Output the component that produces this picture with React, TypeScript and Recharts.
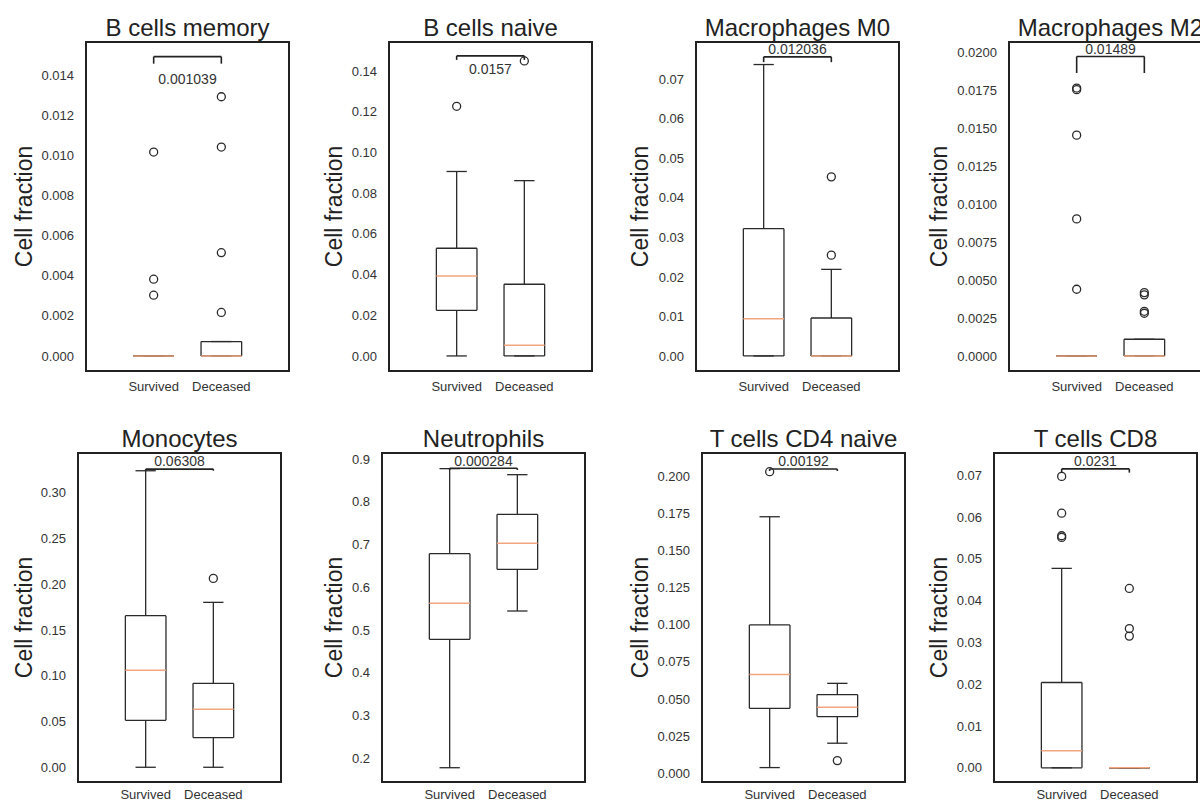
import {
  ComposedChart, XAxis, YAxis, Scatter, ReferenceArea, ReferenceLine, ReferenceDot,
} from 'recharts';

// panel titles, groups, p-values
const TITLES = [
  'B cells memory', 'B cells naive', 'Macrophages M0', 'Macrophages M2',
  'Monocytes', 'Neutrophils', 'T cells CD4 naive', 'T cells CD8',
];
const GROUPS = ['Survived', 'Deceased'];
const P_VALUES = ['0.001039', '0.0157', '0.012036', '0.01489', '0.06308', '0.000284', '0.00192', '0.0231'];

// box stats per panel: [Survived, Deceased]
const WHISKER_LO = [[0, 0], [0, 0], [0, 0], [0, 0], [0, 0], [0.178, 0.5445], [0.0038, 0.0202], [0, 0]];
const Q1 = [[0, 0], [0.0224, 0], [0, 0], [0, 0], [0.0513, 0.0324], [0.4783, 0.642], [0.0437, 0.0381], [0, 0]];
const MEDIAN = [[0, 0], [0.0393, 0.0052], [0.0094, 0], [0, 0], [0.1059, 0.0633], [0.5625, 0.7028], [0.0664, 0.0444], [0.0041, 0]];
const Q3 = [[0, 0.00072], [0.0529, 0.0352], [0.0322, 0.0096], [0, 0.0011], [0.1656, 0.0917], [0.6786, 0.7706], [0.0998, 0.0529], [0.0204, 0]];
const WHISKER_HI = [[0, 0.00072], [0.0906, 0.0861], [0.0737, 0.0219], [0, 0.0011], [0.324, 0.1802], [0.8774, 0.8633], [0.1726, 0.0605], [0.0477, 0]];
const OUTLIERS = [
  [[0.01017, 0.00383, 0.00303], [0.01293, 0.01042, 0.00515, 0.00217]],
  [[0.1226], [0.1449]],
  [[], [0.0255, 0.0453]],
  [[0.01763, 0.01752, 0.01453, 0.00902, 0.00439], [0.00417, 0.00402, 0.00294, 0.00281]],
  [[], [0.2064]],
  [[], []],
  [[0.2029], [0.0085]],
  [[0.0697, 0.0609, 0.0555, 0.0551], [0.0429, 0.0333, 0.0315]],
];

// significance bracket (data units): leg bottom, bar top, p-value text centre
const BRACKET_BASE = [0.01458, 0.1454, 0.0743, 0.01862, 0.324, 0.8743, 0.2034, 0.0706];
const BRACKET_TOP = [0.01493, 0.1474, 0.07565, 0.01971, 0.3258, 0.8782, 0.2047, 0.0715];
const P_LABEL_Y = [0.01383, 0.141, 0.0775, 0.0202, 0.3345, 0.8953, 0.2101, 0.0734];

// y axes
const Y_DOMAINS = [
  [-0.00075, 0.01566], [-0.0074, 0.1542], [-0.0038, 0.0794], [-0.00099, 0.02066],
  [-0.0161, 0.3434], [0.1446, 0.914], [-0.0059, 0.2155], [-0.0034, 0.0753],
];
const Y_TICKS = [
  [0, 0.002, 0.004, 0.006, 0.008, 0.01, 0.012, 0.014],
  [0, 0.02, 0.04, 0.06, 0.08, 0.1, 0.12, 0.14],
  [0, 0.01, 0.02, 0.03, 0.04, 0.05, 0.06, 0.07],
  [0, 0.0025, 0.005, 0.0075, 0.01, 0.0125, 0.015, 0.0175, 0.02],
  [0, 0.05, 0.1, 0.15, 0.2, 0.25, 0.3],
  [0.2, 0.3, 0.4, 0.5, 0.6, 0.7, 0.8, 0.9],
  [0, 0.025, 0.05, 0.075, 0.1, 0.125, 0.15, 0.175, 0.2],
  [0, 0.01, 0.02, 0.03, 0.04, 0.05, 0.06, 0.07],
];
const Y_DECIMALS = [3, 2, 2, 4, 2, 1, 3, 2];

// layout
const FRAMES = [[86, 42], [389, 42], [696, 42], [1009, 42], [78, 453], [382, 453], [702, 453], [994, 453]];
const YLABEL_X = [24, 334, 640, 939];
const FW = 203;
const FH = 329;
const AXIS_W = 90;
const TOP = 40;
const RIGHT = 10;
const X_H = 30;
const BOX_HALF = 0.3;
const CAP_HALF = 0.15;

const FONT = '"Liberation Sans", Arial, Helvetica, sans-serif';
const INK = '#2a2a2a';
const MEDIAN_COLOR = '#f2a57e';

const Ring = (p: any) => (
  <circle cx={p.cx} cy={p.cy} r={4} fill="none" stroke={INK} strokeWidth={1.3} />
);

function Panel({ i }: { i: number }) {
  const [fx, fy] = FRAMES[i];
  const [y0, y1] = Y_DOMAINS[i];
  const seg = (xa: number, ya: number, xb: number, yb: number, key: string, color = INK, w = 1.3) => (
    <ReferenceLine
      key={key}
      segment={[{ x: xa, y: ya }, { x: xb, y: yb }]}
      stroke={color}
      strokeWidth={w}
      ifOverflow="visible"
    />
  );

  return (
    <div style={{ position: 'absolute', left: fx - AXIS_W, top: fy - TOP }}>
      <ComposedChart
        width={AXIS_W + FW + RIGHT}
        height={TOP + FH + X_H}
        margin={{ top: TOP, right: RIGHT, bottom: 0, left: 0 }}
        style={{ fontFamily: FONT }}
      >
        <XAxis
          type="number"
          dataKey="x"
          domain={[0, 3]}
          ticks={[1, 2]}
          interval={0}
          allowDataOverflow
          tickFormatter={(v: number) => GROUPS[v - 1]}
          axisLine={false}
          tickLine={false}
          tickSize={0}
          tickMargin={i < 4 ? 11 : 8}
          height={X_H}
          tick={{ fontSize: 13, fill: '#333', fontFamily: FONT }}
        />
        <YAxis
          type="number"
          dataKey="y"
          domain={[y0, y1]}
          ticks={Y_TICKS[i]}
          interval={0}
          allowDataOverflow
          tickFormatter={(v: number) => v.toFixed(Y_DECIMALS[i])}
          axisLine={false}
          tickLine={false}
          tickSize={0}
          tickMargin={12}
          width={AXIS_W}
          tick={{ fontSize: 13, fill: '#333', fontFamily: FONT }}
          label={{
            value: 'Cell fraction', angle: -90, position: 'insideLeft',
            offset: YLABEL_X[i % 4] - fx + AXIS_W, fontSize: 23, fill: '#222',
            fontFamily: FONT, style: { textAnchor: 'middle' },
          }}
        />

        {/* frame + title */}
        <ReferenceArea
          x1={0} x2={3} y1={y0} y2={y1}
          fill="none" stroke="#222" strokeWidth={2} ifOverflow="visible"
          label={{ value: TITLES[i], position: 'top', offset: 6, fontSize: 24, fill: '#222', fontFamily: FONT }}
        />

        {GROUPS.map((_, g) => {
          const x = g + 1;
          const lo = WHISKER_LO[i][g], q1 = Q1[i][g], q3 = Q3[i][g], hi = WHISKER_HI[i][g];
          return [
            seg(x, q1, x, lo, `wl${g}`),
            seg(x, q3, x, hi, `wh${g}`),
            seg(x - CAP_HALF, lo, x + CAP_HALF, lo, `cl${g}`),
            seg(x - CAP_HALF, hi, x + CAP_HALF, hi, `ch${g}`),
            // box edges
            seg(x - BOX_HALF, q1, x + BOX_HALF, q1, `bb${g}`),
            seg(x - BOX_HALF, q3, x + BOX_HALF, q3, `bt${g}`),
            seg(x - BOX_HALF, q1, x - BOX_HALF, q3, `bl${g}`),
            seg(x + BOX_HALF, q1, x + BOX_HALF, q3, `br${g}`),
            seg(x - BOX_HALF, MEDIAN[i][g], x + BOX_HALF, MEDIAN[i][g], `m${g}`, MEDIAN_COLOR, 1.5),
          ];
        })}

        {GROUPS.map((_, g) => (
          <Scatter
            key={`o${g}`}
            data={OUTLIERS[i][g].map(y => ({ x: g + 1, y }))}
            shape={Ring}
            isAnimationActive={false}
          />
        ))}

        {/* significance bracket */}
        {seg(1, BRACKET_BASE[i], 1, BRACKET_TOP[i], 'kl', '#222', 1.6)}
        {seg(1, BRACKET_TOP[i], 2, BRACKET_TOP[i], 'kt', '#222', 1.6)}
        {seg(2, BRACKET_TOP[i], 2, BRACKET_BASE[i], 'kr', '#222', 1.6)}
        <ReferenceDot
          x={1.5} y={P_LABEL_Y[i]} r={1}
          fill="none" stroke="none" ifOverflow="visible"
          label={{ value: P_VALUES[i], position: 'center', fontSize: 14, fill: '#333', fontFamily: FONT }}
        />
      </ComposedChart>
    </div>
  );
}

export default function App() {
  return (
    <div style={{
      position: 'absolute', left: 0, top: 0, width: 1200, height: 803,
      overflow: 'hidden', background: '#fff', fontFamily: FONT,
    }}>
      {TITLES.map((_, i) => <Panel key={i} i={i} />)}
    </div>
  );
}
